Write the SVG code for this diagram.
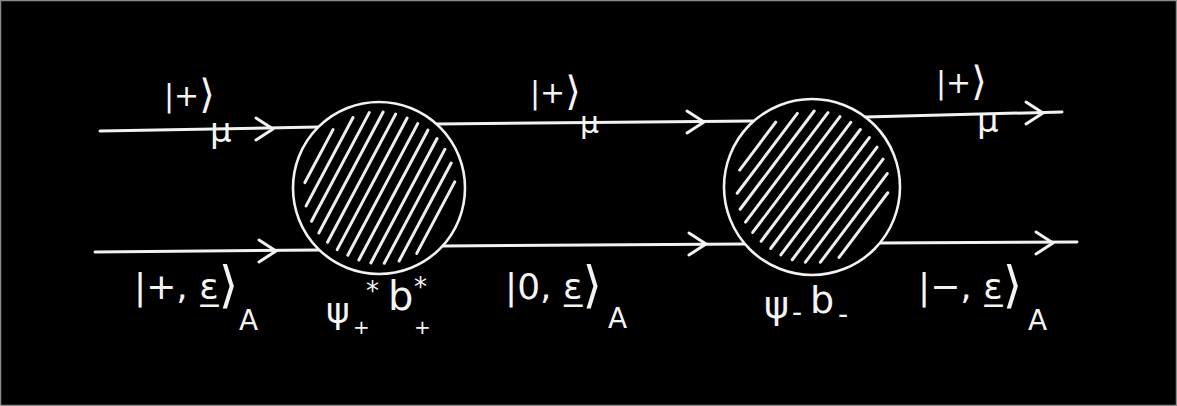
<svg xmlns="http://www.w3.org/2000/svg" xmlns:xlink="http://www.w3.org/1999/xlink" width="1177" height="406" viewBox="0 0 1177 406">
<style>
.ln{stroke:#f2f2f2;stroke-width:3;fill:none;stroke-linecap:round;stroke-linejoin:round}
.circ{stroke:#f2f2f2;stroke-width:2.6;fill:#000}
.hatch{stroke:#eeeeee;stroke-width:3;stroke-linecap:round}
.lbl{font-family:"DejaVu Sans",sans-serif;fill:#f4f4f4}
</style>
<defs>
<path id="chev" class="ln" d="M-17,-11 L0,0 L-17,11"/>
</defs>
<rect x="0.5" y="0.5" width="1176" height="405" fill="#000" stroke="#8a8a8a" stroke-width="1.5"/>

<g id="connectors">
<path class="ln" d="M100,131 L318,127"/>
<path class="ln" d="M436,124 L754,121"/>
<path class="ln" d="M865,117 L1062,112"/>
<path class="ln" d="M95,252 L319,250"/>
<path class="ln" d="M442,246 L745,244"/>
<path class="ln" d="M880,243 L1077,242"/>
<use xlink:href="#chev" x="273" y="129"/>
<use xlink:href="#chev" x="704" y="122"/>
<use xlink:href="#chev" x="1043" y="113"/>
<use xlink:href="#chev" x="276" y="251"/>
<use xlink:href="#chev" x="706" y="244"/>
<use xlink:href="#chev" x="1053" y="243"/>
</g>

<g id="node-vertex-1">
<circle class="circ" cx="379" cy="188" r="86"/>
<g class="hatch" transform="translate(379,188) rotate(-62)">
<line x1="-30" y1="-68" x2="30" y2="-68"/>
<line x1="-50" y1="-56" x2="50" y2="-56"/>
<line x1="-61" y1="-44" x2="62" y2="-44"/>
<line x1="-68" y1="-32" x2="69" y2="-32"/>
<line x1="-72" y1="-20" x2="73" y2="-20"/>
<line x1="-74" y1="-8" x2="75" y2="-8"/>
<line x1="-74" y1="4" x2="75" y2="4"/>
<line x1="-73" y1="16" x2="74" y2="16"/>
<line x1="-70" y1="28" x2="71" y2="28"/>
<line x1="-64" y1="40" x2="65" y2="40"/>
<line x1="-55" y1="52" x2="56" y2="52"/>
<line x1="-40" y1="64" x2="41" y2="64"/>
</g>
<text class="lbl"><tspan x="326" y="323" font-size="36">ψ</tspan><tspan x="353" y="334" font-size="20">+</tspan><tspan x="366" y="300" font-size="26">*</tspan><tspan x="388" y="310" font-size="40">b</tspan><tspan x="414" y="296" font-size="26">*</tspan><tspan x="414" y="334" font-size="20">+</tspan></text>
</g>

<g id="node-vertex-2">
<circle class="circ" cx="812" cy="187" r="88"/>
<g class="hatch" transform="translate(812,187) rotate(-53)">
<line x1="-30" y1="-68" x2="30" y2="-68"/>
<line x1="-50" y1="-56" x2="50" y2="-56"/>
<line x1="-61" y1="-44" x2="62" y2="-44"/>
<line x1="-68" y1="-32" x2="69" y2="-32"/>
<line x1="-72" y1="-20" x2="73" y2="-20"/>
<line x1="-74" y1="-8" x2="75" y2="-8"/>
<line x1="-74" y1="4" x2="75" y2="4"/>
<line x1="-73" y1="16" x2="74" y2="16"/>
<line x1="-70" y1="28" x2="71" y2="28"/>
<line x1="-64" y1="40" x2="65" y2="40"/>
<line x1="-55" y1="52" x2="56" y2="52"/>
<line x1="-40" y1="64" x2="41" y2="64"/>
</g>
<text class="lbl"><tspan x="764" y="318" font-size="38">ψ</tspan><tspan x="792" y="322" font-size="28">-</tspan><tspan x="810" y="313" font-size="38">b</tspan><tspan x="838" y="324" font-size="28">-</tspan></text>
</g>

<g id="edge-labels">
<text class="lbl"><tspan x="164" y="106" font-size="30">|+</tspan><tspan font-size="40" dy="2">⟩</tspan><tspan x="210" y="142" font-size="34">μ</tspan></text>
<text class="lbl"><tspan x="530" y="103" font-size="30">|+</tspan><tspan font-size="40" dy="2">⟩</tspan><tspan x="580" y="133" font-size="30">μ</tspan></text>
<text class="lbl"><tspan x="936" y="93" font-size="30">|+</tspan><tspan font-size="40" dy="2">⟩</tspan><tspan x="977" y="132" font-size="34">μ</tspan></text>
<text class="lbl"><tspan x="134" y="299" font-size="36">|+, ε̲</tspan><tspan font-size="50" dy="3">⟩</tspan><tspan x="239" y="330" font-size="28">A</tspan></text>
<text class="lbl"><tspan x="505" y="299" font-size="36">|0, ε̲</tspan><tspan font-size="50" dy="3">⟩</tspan><tspan x="608" y="328" font-size="28">A</tspan></text>
<text class="lbl"><tspan x="918" y="299" font-size="36">|−, ε̲</tspan><tspan font-size="50" dy="3">⟩</tspan><tspan x="1028" y="330" font-size="28">A</tspan></text>
</g>
</svg>
